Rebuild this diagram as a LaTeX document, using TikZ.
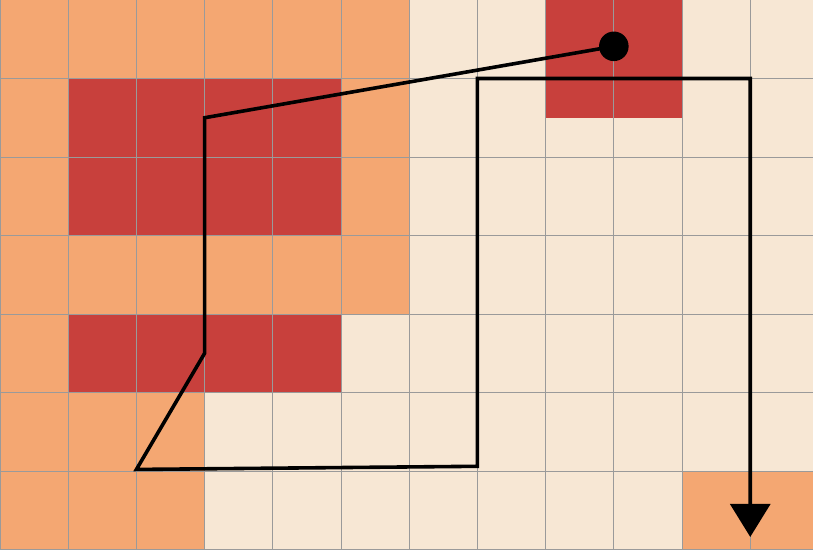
\documentclass[tikz,border=0pt]{standalone}
\usetikzlibrary{arrows.meta}
\definecolor{mapsand}{HTML}{F7E7D4}
\definecolor{mapclay}{HTML}{F4A772}
\definecolor{maprust}{HTML}{C8403C}
\definecolor{mapline}{HTML}{9A9A9A}

\begin{document}
\begin{tikzpicture}[x=1.2cm,y=-1.3812cm,
      gridline/.style={line width=0.5pt,draw=mapline},
      route/.style={line width=1.8pt,line join=miter}]
    \useasboundingbox (0,0) rectangle (11.92,7);
    % ground colours
    \fill[mapsand] (0,0) rectangle (12,7);
    \fill[mapclay] (0,0) rectangle (6,4);
    \fill[mapclay] (0,4) rectangle (1,5);
    \fill[mapclay] (0,5) rectangle (3,7);
    \fill[mapclay] (10,6) rectangle (12,7);
    \fill[maprust] (1,1) rectangle (5,3);
    \fill[maprust] (1,4) rectangle (5,5);
    \fill[maprust] (8,0) rectangle (10,1.5);
    % grid
    \foreach \i in {0,...,12} \draw[gridline] (\i,0) -- (\i,7);
    \foreach \j in {0,...,7} \draw[gridline] (0,\j) -- (12,\j);
    % route
    \coordinate (start) at (9,0.59);
    \coordinate (p1) at (3,1.5);
    \coordinate (p2) at (3,4.5);
    \coordinate (p3) at (2,5.98);
    \coordinate (p4) at (7,5.94);
    \coordinate (p5) at (7,1);
    \coordinate (p6) at (11,1);
    \coordinate (goal) at (11,6.84);
    \draw[route,-{Triangle[length=5.8mm,width=7mm]}]
      (start) -- (p1) -- (p2) -- (p3) -- (p4) -- (p5) -- (p6) -- (goal);
    \fill (start) circle[radius=2.6mm];
  \end{tikzpicture}
\end{document}
